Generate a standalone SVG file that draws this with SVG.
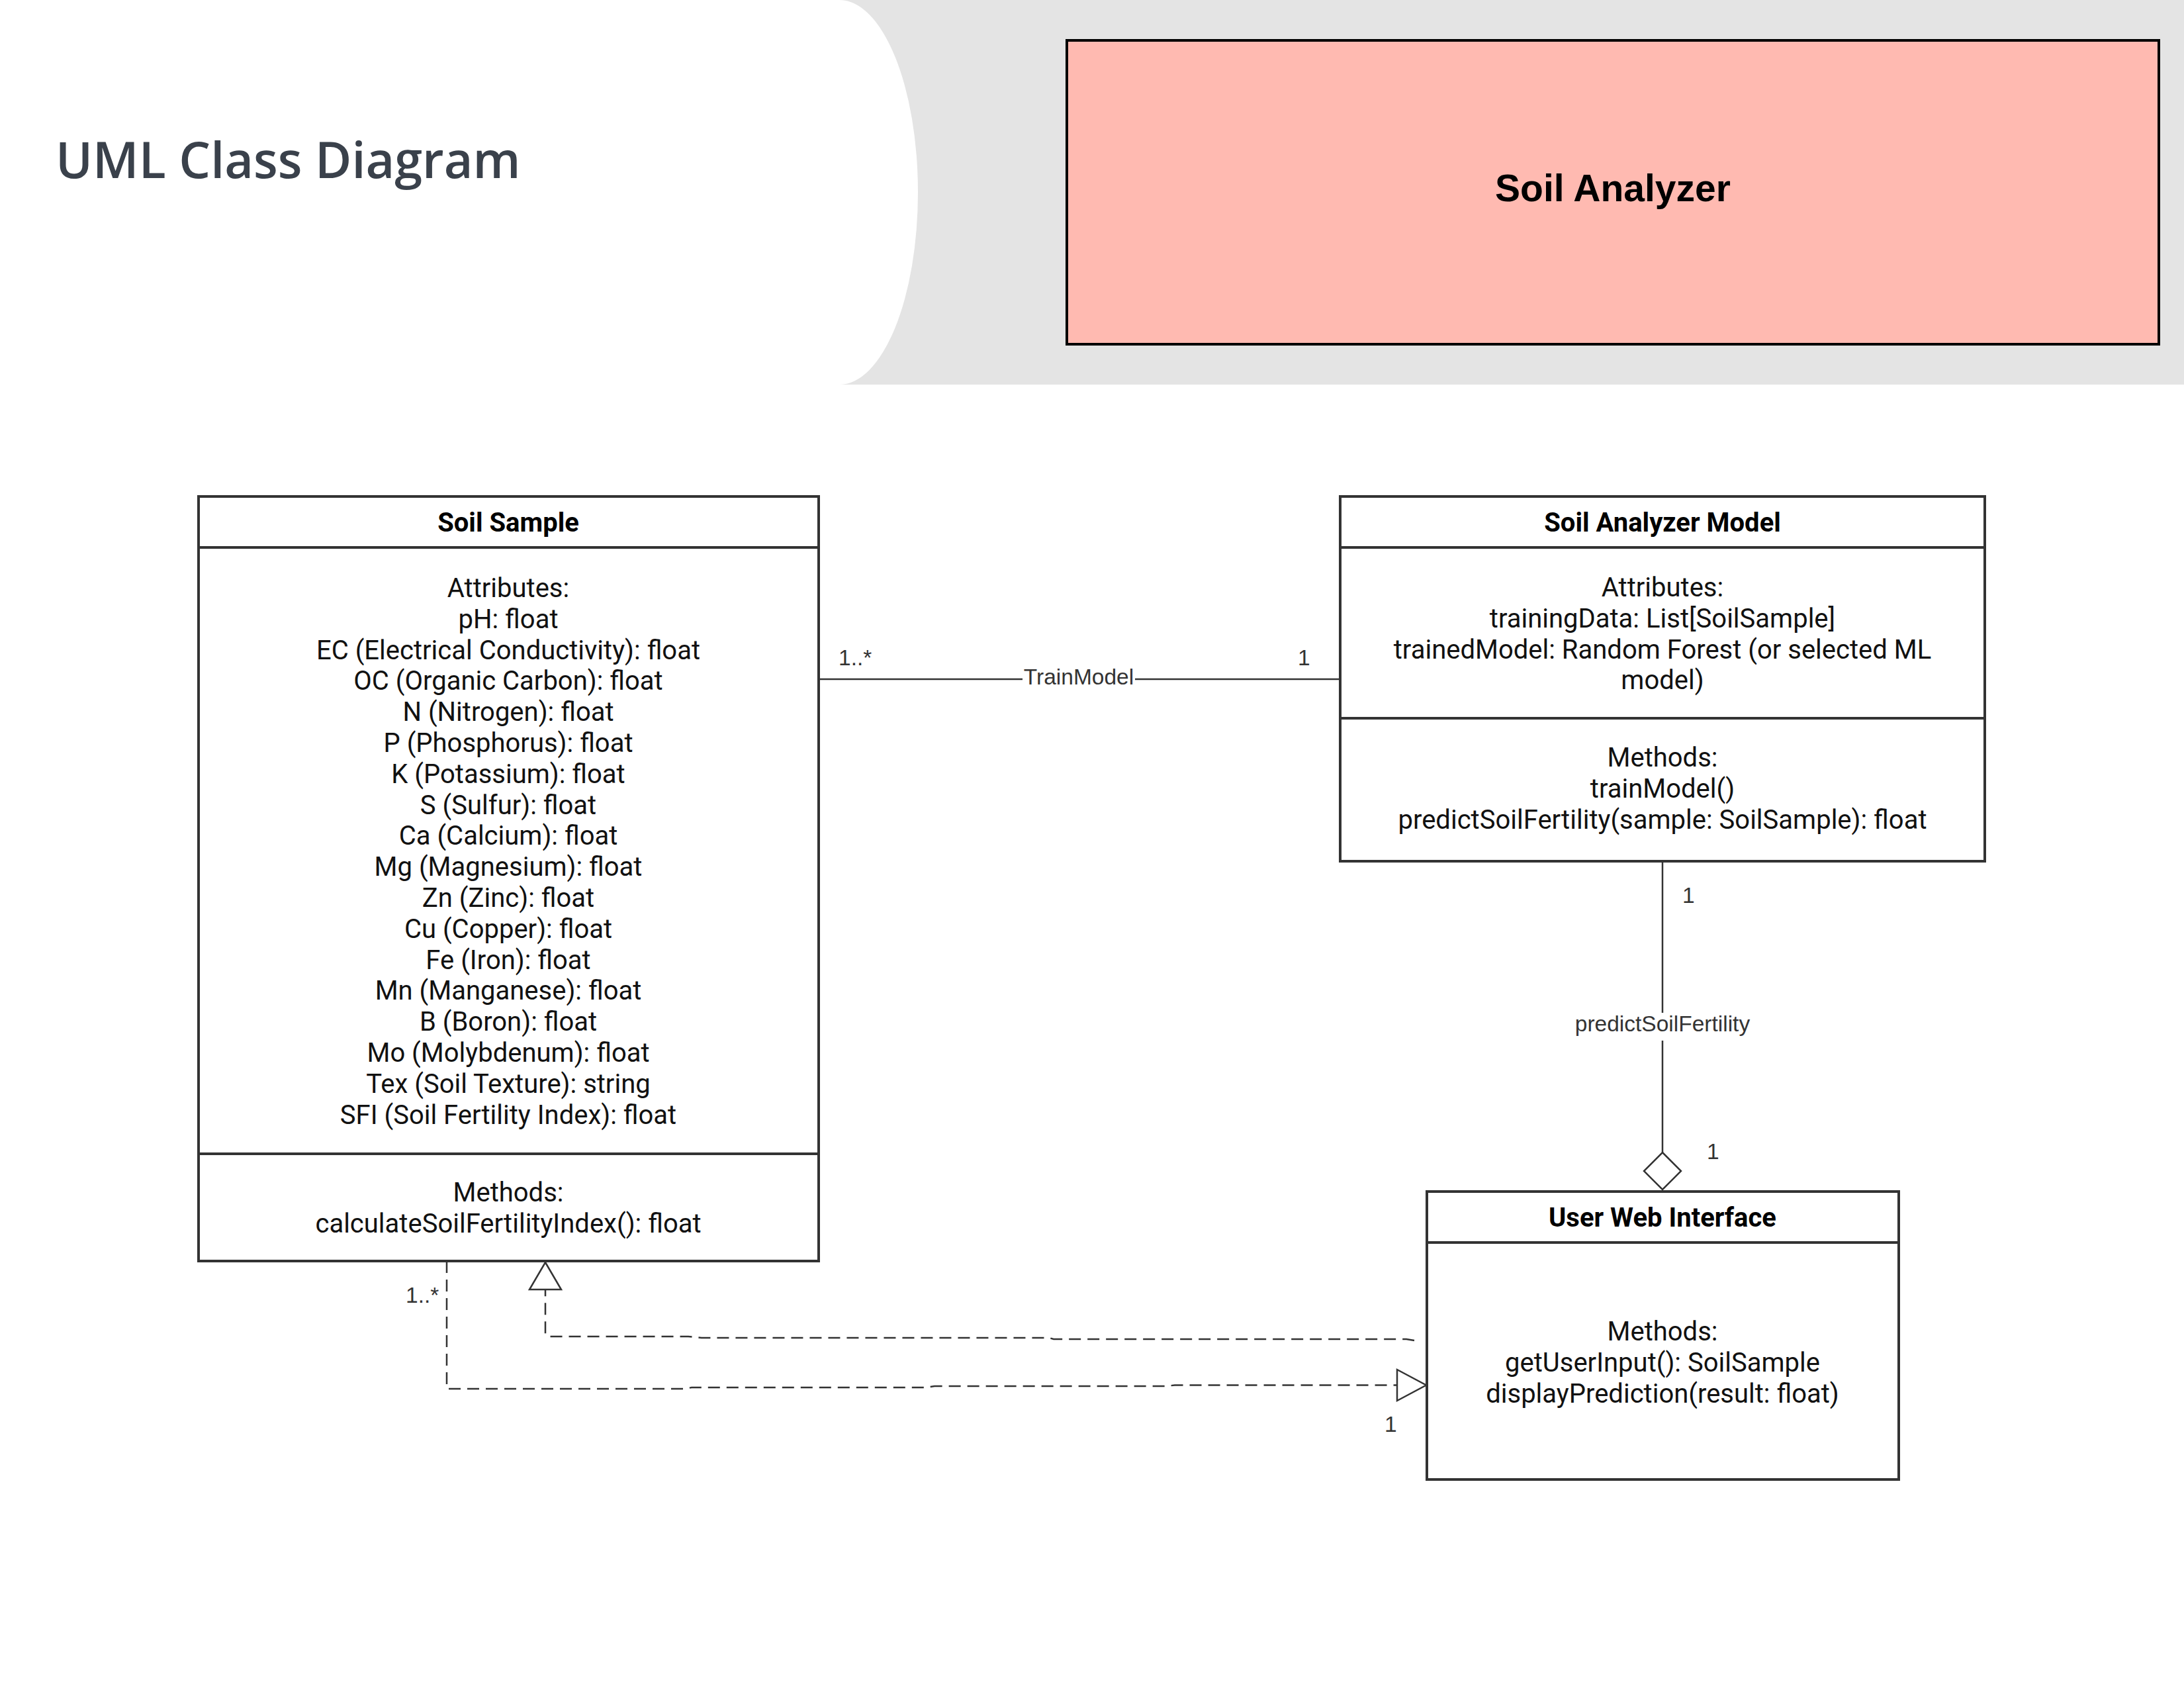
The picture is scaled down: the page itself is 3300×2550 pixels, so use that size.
<svg xmlns="http://www.w3.org/2000/svg" width="3300" height="2550" viewBox="0 0 3300 2550">
<style>
.bg{fill:#ffffff}
.band{fill:#e4e4e4}
.title{font-family:"Open Sans",sans-serif;font-weight:600;font-size:75.5px;fill:#3a414b}
.banner{fill:#ffbab1;stroke:#000;stroke-width:4}
.bannertxt{font-family:"Liberation Sans",Arial,sans-serif;font-weight:700;font-size:57px;fill:#000;text-anchor:middle}
.box{fill:#fff;stroke:#333;stroke-width:4}
.sep{stroke:#333;stroke-width:4}
.hd{font-family:Roboto,sans-serif;font-weight:700;font-size:40px;fill:#000;text-anchor:middle}
.t{font-family:Roboto,sans-serif;font-size:40px;fill:#111;text-anchor:middle}
.ln{fill:none;stroke:#333;stroke-width:2.5}
.dash{fill:none;stroke:#333;stroke-width:2.5;stroke-dasharray:18 10}
.hollow{fill:#fff;stroke:#333;stroke-width:2.5;stroke-linejoin:miter}
.lbl{font-family:"Liberation Sans",Arial,sans-serif;font-size:33.5px;fill:#333}
.lblc{font-family:"Liberation Sans",Arial,sans-serif;font-size:33.5px;fill:#333;text-anchor:middle}
</style>
<rect class="bg" x="0" y="0" width="3300" height="2550"/>
<path class="band" d="M1268 0 L3300 0 L3300 581 L1268 581 A119 290.5 0 0 0 1268 0 Z"/>
<text class="title" x="84" y="269">UML Class Diagram</text>
<g id="soil-analyzer-banner">
<rect class="banner" x="1612" y="61" width="1650" height="459"/>
<text class="bannertxt" x="2437" y="304">Soil Analyzer</text>
</g>
<g id="connectors">
<line class="ln" x1="1238" y1="1026" x2="1545" y2="1026"/>
<line class="ln" x1="1715" y1="1026" x2="2025" y2="1026"/>
<text class="lblc" x="1630" y="1034">TrainModel</text>
<text class="lbl" x="1267" y="1005">1..*</text>
<text class="lbl" x="1961" y="1005">1</text>
<line class="ln" x1="2512" y1="1301" x2="2512" y2="1530"/>
<line class="ln" x1="2512" y1="1572" x2="2512" y2="1741"/>
<polygon class="hollow" points="2512,1741 2540,1769 2512,1797 2484,1769"/>
<text class="lblc" x="2512" y="1558">predictSoilFertility</text>
<text class="lbl" x="2542" y="1364">1</text>
<text class="lbl" x="2579" y="1751">1</text>
<polyline class="dash" points="2137,2025 2125,2023 1592,2023 1585,2021 1060,2021 1040,2019 830,2019 824,2016 824,1948"/>
<polygon class="hollow" points="824,1907 848,1948 800,1948"/>
<polyline class="dash" points="675,1905 675,2098 1035,2098 1045,2096 1400,2096 1412,2094 1762,2094 1775,2092.5 2111,2092.5"/>
<polygon class="hollow" points="2111,2069 2155,2092.5 2111,2116"/>
<text class="lbl" x="613" y="1968">1..*</text>
<text class="lbl" x="2092" y="2163">1</text>
</g>
<g id="soil-sample">
<rect class="box" x="300" y="750" width="937" height="1155"/>
<line class="sep" x1="300" y1="827" x2="1237" y2="827"/>
<line class="sep" x1="300" y1="1743" x2="1237" y2="1743"/>
<text class="hd" x="768" y="803">Soil Sample</text>
<text class="t" x="768" y="902">Attributes:</text>
<text class="t" x="768" y="948.8">pH: float</text>
<text class="t" x="768" y="995.6">EC (Electrical Conductivity): float</text>
<text class="t" x="768" y="1042.4">OC (Organic Carbon): float</text>
<text class="t" x="768" y="1089.2">N (Nitrogen): float</text>
<text class="t" x="768" y="1136">P (Phosphorus): float</text>
<text class="t" x="768" y="1182.8">K (Potassium): float</text>
<text class="t" x="768" y="1229.6">S (Sulfur): float</text>
<text class="t" x="768" y="1276.4">Ca (Calcium): float</text>
<text class="t" x="768" y="1323.2">Mg (Magnesium): float</text>
<text class="t" x="768" y="1370">Zn (Zinc): float</text>
<text class="t" x="768" y="1416.8">Cu (Copper): float</text>
<text class="t" x="768" y="1463.6">Fe (Iron): float</text>
<text class="t" x="768" y="1510.4">Mn (Manganese): float</text>
<text class="t" x="768" y="1557.2">B (Boron): float</text>
<text class="t" x="768" y="1604">Mo (Molybdenum): float</text>
<text class="t" x="768" y="1650.8">Tex (Soil Texture): string</text>
<text class="t" x="768" y="1697.6">SFI (Soil Fertility Index): float</text>
<text class="t" x="768" y="1815">Methods:</text>
<text class="t" x="768" y="1861.8">calculateSoilFertilityIndex(): float</text>
</g>
<g id="soil-analyzer-model">
<rect class="box" x="2025" y="750" width="974" height="551"/>
<line class="sep" x1="2025" y1="827" x2="2999" y2="827"/>
<line class="sep" x1="2025" y1="1085" x2="2999" y2="1085"/>
<text class="hd" x="2512" y="803">Soil Analyzer Model</text>
<text class="t" x="2512" y="901">Attributes:</text>
<text class="t" x="2512" y="947.8">trainingData: List[SoilSample]</text>
<text class="t" x="2512" y="994.6">trainedModel: Random Forest (or selected ML</text>
<text class="t" x="2512" y="1041.4">model)</text>
<text class="t" x="2512" y="1158">Methods:</text>
<text class="t" x="2512" y="1204.8">trainModel()</text>
<text class="t" x="2512" y="1251.6">predictSoilFertility(sample: SoilSample): float</text>
</g>
<g id="user-web-interface">
<rect class="box" x="2156" y="1800" width="713" height="435"/>
<line class="sep" x1="2156" y1="1877" x2="2869" y2="1877"/>
<text class="hd" x="2512" y="1853">User Web Interface</text>
<text class="t" x="2512" y="2025">Methods:</text>
<text class="t" x="2512" y="2071.8">getUserInput(): SoilSample</text>
<text class="t" x="2512" y="2118.6">displayPrediction(result: float)</text>
</g>
</svg>
